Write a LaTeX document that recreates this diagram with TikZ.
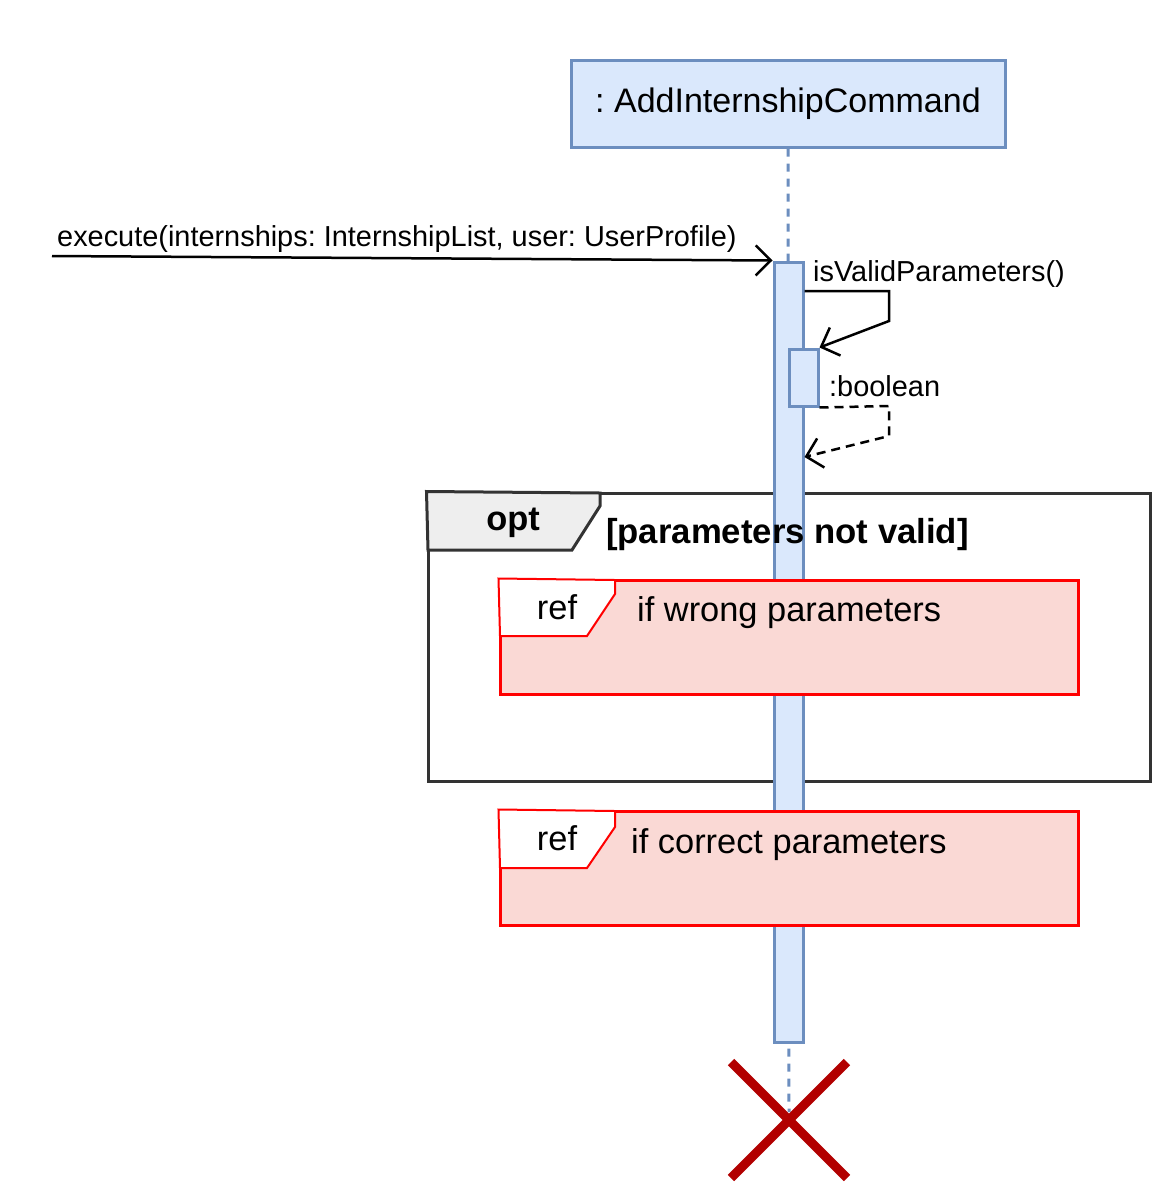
\documentclass[tikz,border=0pt]{standalone}
\usepackage{fontspec}
\setmainfont{Liberation Sans}
\usetikzlibrary{arrows.meta,positioning}
\frenchspacing

\definecolor{lifefill}{HTML}{DAE8FC}
\definecolor{lifedraw}{HTML}{6C8EBF}
\definecolor{reffill}{HTML}{FAD9D5}
\definecolor{framegray}{HTML}{333333}
\definecolor{tabgray}{HTML}{EEEEEE}
\definecolor{crossred}{HTML}{B20000}

\tikzset{
  life/.style={draw=lifedraw, fill=lifefill, line width=3pt, inner sep=0pt},
  msg/.style={line width=2.5pt, -{Straight Barb[length=15pt,width=30pt]}},
  ret/.style={msg, dash pattern=on 9pt off 6pt},
  small/.style={font=\fontsize{28.9}{34}\selectfont, inner sep=0pt},
  big/.style={font=\fontsize{34.4}{40}\selectfont, inner sep=0pt},
  refbox/.style={draw=red, fill=reffill, line width=3pt, inner sep=0pt,
    minimum width=578pt, minimum height=114pt},
  reftab/.style={draw=red, fill=white, line width=2pt},
}

\begin{document}
\begin{tikzpicture}[x=1pt,y=-1pt]
   \useasboundingbox (0,0) rectangle (1171,1200);

   % lifeline head and dashed line
   \node[life, minimum width=434pt, minimum height=87pt, font=\fontsize{34}{40}\selectfont] (cmd) at (788,103.5) {: AddInternshipCommand};
   \coordinate (lifeend) at (789,1112);
   \draw[lifedraw, line width=3pt, dash pattern=on 8pt off 7pt] (cmd.south) -- (lifeend);

   % opt frame
   \node[draw=framegray, line width=3pt, minimum width=722pt, minimum height=288pt, inner sep=0pt] (opt) at (789,637) {};
   \draw[framegray, fill=tabgray, line width=3pt] (opt.north west) -- (600,493) -- (600,506) -- (572,550) -- (428,550) -- cycle;

   % activations
   \node[life, minimum width=29pt, minimum height=780pt] (act) at (788.5,652) {};
   \node[life, minimum width=29pt, minimum height=57pt] (sub) at (803.5,377.5) {};

   % messages
   \coordinate (start) at (52,256);
   \draw[msg] (start) -- (act.north west);
   \node[small, anchor=base west] (execlbl) at (57,246) {execute(internships: InternshipList, user: UserProfile)};

   \draw[msg] (act.east |- 0,291) -- (889,291) -- (889,321) -- (sub.north east);
   \node[small, anchor=base west] (validlbl) at (813,281) {isValidParameters()};

   \draw[ret] (sub.south east) -- (889,406) -- (889,436) -- (act.east |- 0,457);
   \node[small, anchor=base west] (boollbl) at (829,396) {:boolean};

   \node[big, anchor=base] (optlbl) at (513,530) {\bfseries opt};
   \node[big, anchor=base west, font=\fontsize{34.7}{40}\selectfont\bfseries] (guard) at (606,543) {[parameters not valid]};

   % ref boxes
   \node[refbox] (wrong) at (789,637) {};
   \draw[reftab] (wrong.north west) -- (615,580) -- (615,594) -- (587,636) -- (500,636) -- cycle;
   \node[big, anchor=base] (wrongref) at (557,619) {ref};
   \node[big, anchor=base west] (wronglbl) at (637,621) {if wrong parameters};

   \node[refbox] (right) at (789,868) {};
   \draw[reftab] (right.north west) -- (615,811) -- (615,827) -- (587,868) -- (500,868) -- cycle;
   \node[big, anchor=base] (rightref) at (557,850) {ref};
   \node[big, anchor=base west] (rightlbl) at (631,853) {if correct parameters};

   % destruction
   \draw[crossred, line width=9pt] (731,1062) -- (847,1178) (731,1178) -- (847,1062);

\end{tikzpicture}
\end{document}
